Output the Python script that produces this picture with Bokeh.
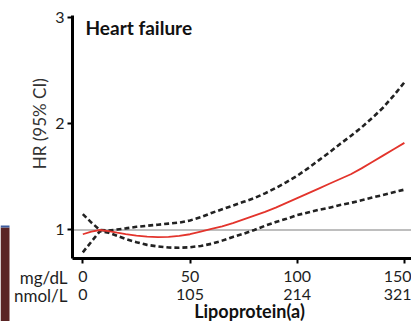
import math
from bokeh.plotting import figure
from bokeh.models import LinearAxis, FixedTicker, Label, Range1d, BoxAnnotation
from bokeh.embed import file_html
from bokeh.resources import INLINE

# ---- data ----
lpa_mgdl = [0, 4, 8, 12, 16, 20, 25, 30, 35, 40, 45, 50, 55, 60, 65, 70, 75, 80,
            85, 90, 95, 100, 105, 110, 115, 120, 125, 130, 135, 140, 145, 150]
hr = [0.96, 0.985, 1.0, 0.99, 0.975, 0.962, 0.948, 0.938, 0.933, 0.935, 0.945, 0.96,
      0.985, 1.01, 1.035, 1.065, 1.10, 1.135, 1.17, 1.21, 1.255, 1.30, 1.345, 1.39,
      1.435, 1.48, 1.525, 1.58, 1.64, 1.70, 1.76, 1.82]
ci_upper = [1.15, 1.07, 1.0, 0.995, 1.005, 1.015, 1.03, 1.04, 1.05, 1.06, 1.07, 1.09,
            1.12, 1.16, 1.195, 1.23, 1.265, 1.30, 1.345, 1.395, 1.45, 1.51, 1.58, 1.655,
            1.73, 1.81, 1.885, 1.965, 2.055, 2.15, 2.265, 2.39]
ci_lower = [0.79, 0.89, 0.99, 0.975, 0.945, 0.915, 0.885, 0.86, 0.845, 0.835, 0.833, 0.838,
            0.85, 0.87, 0.90, 0.935, 0.965, 1.0, 1.04, 1.075, 1.105, 1.14, 1.165, 1.19,
            1.21, 1.235, 1.255, 1.28, 1.305, 1.33, 1.355, 1.38]
x_ticks = [0, 50, 100, 150]
x_ticks_nmol = ["0", "105", "214", "321"]
y_ticks = [1, 2, 3]
hr_ref = 1

# ---- layout constants ----
X0, X1 = -38.39, 153.31        # whole canvas width in data units
Y0, Y1 = 0.1388, 3.16          # whole canvas height in data units
AX_X = -4.8                    # where the y axis sits
AX_Y = 0.732                   # where the x axis sits
Y_TOP = 3.02

FONT = "Lato"
TXT = "#1e1e1e"

p = figure(width=411, height=321, x_range=Range1d(X0, X1), y_range=Range1d(Y0, Y1),
           output_backend="svg", toolbar_location=None,
           min_border_left=0, min_border_right=0, min_border_top=0, min_border_bottom=0)
p.title.visible = False
p.outline_line_color = None
p.xgrid.visible = False
p.ygrid.visible = False
p.background_fill_color = "white"
p.border_fill_color = "white"

# cropped slide element at the lower-left edge
p.add_layout(BoxAnnotation(right=-34.19, top=1.0235, fill_color="#5a2424", fill_alpha=1,
                           line_color=None, level="underlay"))
p.add_layout(BoxAnnotation(right=-34.19, bottom=1.0235, top=1.042, fill_color="#3d5c9e",
                           fill_alpha=1, line_color=None, level="underlay"))

# reference line at HR = 1
p.line([AX_X, X1], [hr_ref, hr_ref], line_color="#a8a8a8", line_width=1.3)

p.line(lpa_mgdl, ci_upper, line_color="#222222", line_width=2.6, line_dash="5 3")
p.line(lpa_mgdl, ci_lower, line_color="#222222", line_width=2.6, line_dash="5 3")
p.line(lpa_mgdl, hr, line_color="#e3342c", line_width=1.8)

# axes (drawn at fixed positions inside the canvas)
for ax in (p.xaxis[0], p.yaxis[0]):
    ax.axis_line_width = 3
    ax.axis_line_color = "black"
    ax.major_tick_line_width = 2
    ax.major_tick_line_color = "black"
    ax.major_tick_in = 0
    ax.major_tick_out = 5
    ax.minor_tick_line_color = None
    ax.major_label_text_font = FONT
    ax.major_label_text_font_size = "16px"
    ax.major_label_text_color = TXT

yax = p.yaxis[0]
yax.ticker = FixedTicker(ticks=y_ticks)
yax.fixed_location = AX_X
yax.bounds = (AX_Y, Y_TOP)
yax.major_label_standoff = 3

xax = p.xaxis[0]
xax.ticker = FixedTicker(ticks=x_ticks)
xax.fixed_location = AX_Y
xax.bounds = (AX_X, X1)
xax.major_label_standoff = 8

ax2 = LinearAxis(ticker=FixedTicker(ticks=x_ticks),
                 major_label_overrides={t: s for t, s in zip(x_ticks, x_ticks_nmol)},
                 fixed_location=AX_Y,
                 axis_line_color=None, major_tick_line_color=None, minor_tick_line_color=None,
                 major_tick_in=0, major_tick_out=0, major_label_standoff=31,
                 major_label_text_font=FONT, major_label_text_font_size="16px",
                 major_label_text_color=TXT)
p.add_layout(ax2, "below")

# texts
p.add_layout(Label(x=1.26, y=2.906, text="Heart failure", text_font=FONT, text_font_style="bold",
                   text_font_size="19px", text_color="#111111", text_align="left", text_baseline="middle"))
p.add_layout(Label(x=-20.2, y=2.0, text="HR (95% CI)", angle=math.pi / 2, text_font=FONT,
                   text_font_size="17px", text_color="#333333", text_align="center", text_baseline="middle"))
p.add_layout(Label(x=-7.14, y=0.553, text="mg/dL", text_font=FONT, text_font_size="17px",
                   text_color=TXT, text_align="right", text_baseline="middle"))
p.add_layout(Label(x=-7.14, y=0.3835, text="nmol/L", text_font=FONT, text_font_size="17px",
                   text_color=TXT, text_align="right", text_baseline="middle"))
p.add_layout(Label(x=77.75, y=0.1388, text="Lipoprotein(a)", text_font=FONT, text_font_style="bold",
                   text_font_size="18px", text_color="#111111", text_align="center", text_baseline="bottom"))

open("out.html", "w").write(file_html(p, INLINE))
